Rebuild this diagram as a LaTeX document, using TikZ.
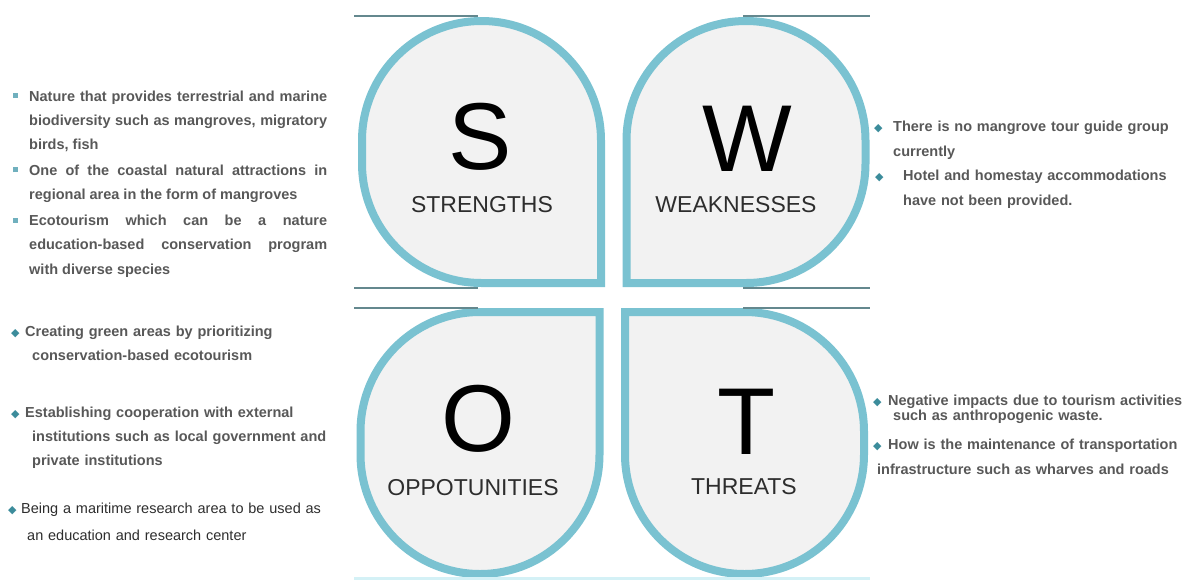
\documentclass[tikz,border=0pt]{standalone}
\usepackage{fontspec}
\setmainfont{Liberation Sans}
\newfontfamily\symfont{DejaVu Sans}

\definecolor{ring}{RGB}{122,194,209}
\definecolor{petalfill}{RGB}{242,242,242}
\definecolor{frameline}{RGB}{100,136,142}
\definecolor{paleline}{RGB}{212,241,246}
\definecolor{bodytext}{RGB}{88,88,88}
\definecolor{darktext}{RGB}{45,45,45}
\definecolor{diabullet}{RGB}{60,140,155}
\definecolor{sqbullet}{RGB}{112,176,190}

\newcommand{\dia}{\textcolor{diabullet}{\symfont\fontsize{11}{11}\selectfont ◆}}
\newcommand{\sqitem}{\hangindent=16pt\hangafter=1\noindent\makebox[16pt][l]{\textcolor{sqbullet}{\rule[3pt]{5pt}{5pt}}}}
\newcommand{\diaitem}[2]{\hangindent=#2\hangafter=1\noindent\makebox[#1][l]{\dia}}

\tikzset{
  petal/.pic={
    \draw[line width=8pt,draw=ring,fill=petalfill]
      (119.5,131) -- (0,131) arc[start angle=90,end angle=180,radius=119.5]
      -- (-119.5,-11.5) arc[start angle=180,end angle=360,radius=119.5] -- cycle;
  },
  bigletter/.style={inner sep=0pt,font=\fontsize{95}{95}\selectfont},
  caption/.style={inner sep=0pt,text=darktext,font=\fontsize{23}{23}\selectfont},
  body/.style={inner sep=0pt,anchor=base west,text=bodytext,align=left,
    font=\fontsize{14.5}{24.2}\selectfont\bfseries},
  frame/.style={draw=frameline,line width=2pt},
  pale/.style={draw=paleline,line width=3pt}
}

\begin{document}
\begin{tikzpicture}[x=1pt,y=-1pt]
\useasboundingbox (0,0) rectangle (1184,579);

% petals
\pic at (481.5,152) {petal};
\pic[xscale=-1] at (746,152) {petal};
\pic[yscale=-1] at (480,443) {petal};
\pic[xscale=-1,yscale=-1] at (744.5,443) {petal};

% frame lines
\foreach \y in {16,288,308} {
  \draw[frame] (354,\y) -- (478,\y);
  \draw[frame] (743,\y) -- (870,\y);
}
\draw[pale] (354,578) -- (870,578);

% letters
\node[bigletter] (S) at (480,137) {S};
\node[bigletter] (W) at (747,139) {W};
\node[bigletter] (O) at (478,419) {O};
\node[bigletter] (T) at (747,422) {T};
\node[caption] (Slabel) at (482,205) {STRENGTHS};
\node[caption] (Wlabel) at (736,205) {WEAKNESSES};
\node[caption] (Olabel) at (473,488) {OPPOTUNITIES};
\node[caption] (Tlabel) at (744,487) {THREATS};

% strengths
\node[body,text width=314,align=justify] (strengths) at (13,101) {\setlength{\parskip}{1.8pt}%
  \sqitem Nature that provides terrestrial and marine\linebreak biodiversity such as mangroves, migratory\linebreak birds, fish\par
  \sqitem One of the coastal natural attractions in\linebreak regional area in the form of mangroves\par
  \sqitem Ecotourism which can be a nature\linebreak education-based conservation program\linebreak with diverse species\par};

% opportunities
\node[body,text width=330] (opp1) at (11,336) {\diaitem{14pt}{21pt}Creating green areas by prioritizing\newline conservation-based ecotourism\par};
\node[body,text width=330] (opp2) at (11,417) {\diaitem{14pt}{21pt}Establishing cooperation with external\newline institutions such as local government and\newline private institutions\par};
\node[body,text width=330,text=darktext,font=\fontsize{14.5}{27}\selectfont] (opp3) at (8,513) {\diaitem{13pt}{19pt}Being a maritime research area to be used as\newline an education and research center\par};

% weaknesses
\node[body,text width=300,font=\fontsize{14.5}{25}\selectfont\bfseries] (weak1) at (874,131) {\diaitem{19pt}{19pt}There is no mangrove tour guide group\newline currently\par};
\node[body,text width=300,font=\fontsize{14.5}{25}\selectfont\bfseries] (weak2) at (875,180) {\diaitem{28pt}{28pt}Hotel and homestay accommodations\newline have not been provided.\par};

% threats
\node[body,text width=310,font=\fontsize{14.5}{15.5}\selectfont\bfseries] (threat1) at (873,405) {\diaitem{15pt}{20pt}Negative impacts due to tourism activities\newline such as anthropogenic waste.\par};
\node[body,text width=310,font=\fontsize{14.5}{25}\selectfont\bfseries] (threat2) at (873,449) {\diaitem{15pt}{4pt}How is the maintenance of transportation\newline infrastructure such as wharves and roads\par};
\end{tikzpicture}
\end{document}
